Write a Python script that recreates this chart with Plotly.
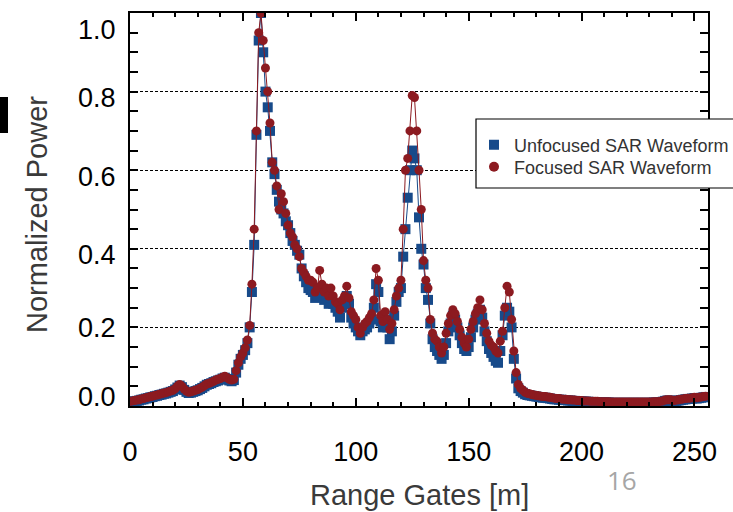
import plotly.graph_objects as go

# ---------------- data ----------------
gates = list(range(256))

focused = [
    0.012, 0.013, 0.014, 0.015, 0.016, 0.018, 0.019, 0.021, 0.022, 0.024,
    0.025, 0.027, 0.028, 0.030, 0.031, 0.033, 0.034, 0.036, 0.038, 0.040,
    0.044, 0.050, 0.055, 0.050, 0.043, 0.038, 0.035, 0.036, 0.038, 0.040,
    0.042, 0.045, 0.048, 0.052, 0.056, 0.058, 0.060, 0.063, 0.066, 0.068,
    0.070, 0.073, 0.076, 0.072, 0.068, 0.066, 0.068, 0.090, 0.110, 0.125,
    0.135, 0.148, 0.168, 0.205, 0.310, 0.450, 0.700, 0.950, 1.000, 0.930,
    0.860, 0.800, 0.720, 0.620, 0.600, 0.560, 0.500, 0.540, 0.520, 0.490,
    0.460, 0.440, 0.430, 0.410, 0.400, 0.380, 0.350, 0.340, 0.330, 0.320,
    0.320, 0.315, 0.290, 0.300, 0.345, 0.310, 0.290, 0.300, 0.280, 0.300,
    0.280, 0.265, 0.260, 0.245, 0.270, 0.280, 0.305, 0.275, 0.240, 0.230,
    0.220, 0.200, 0.185, 0.200, 0.210, 0.215, 0.225, 0.235, 0.270, 0.350,
    0.320, 0.230, 0.215, 0.240, 0.220, 0.195, 0.210, 0.245, 0.280, 0.300,
    0.320, 0.450, 0.600, 0.630, 0.700, 0.790, 0.785, 0.700, 0.600, 0.500,
    0.370, 0.320, 0.300, 0.220, 0.185, 0.170, 0.165, 0.150, 0.135, 0.150,
    0.185, 0.210, 0.230, 0.245, 0.235, 0.215, 0.195, 0.175, 0.160, 0.150,
    0.170, 0.195, 0.215, 0.235, 0.250, 0.270, 0.245, 0.210, 0.185, 0.165,
    0.155, 0.150, 0.140, 0.135, 0.165, 0.190, 0.250, 0.305, 0.290, 0.220,
    0.140, 0.085, 0.055, 0.045, 0.040, 0.035, 0.032, 0.031, 0.029, 0.028,
    0.027, 0.026, 0.025, 0.024, 0.024, 0.023, 0.022, 0.021, 0.020, 0.019,
    0.019, 0.018, 0.017, 0.017, 0.016, 0.016, 0.015, 0.015, 0.014, 0.014,
    0.014, 0.013, 0.013, 0.013, 0.012, 0.012, 0.012, 0.012, 0.011, 0.011,
    0.011, 0.011, 0.011, 0.010, 0.010, 0.010, 0.010, 0.010, 0.010, 0.010,
    0.010, 0.010, 0.010, 0.010, 0.010, 0.010, 0.010, 0.010, 0.010, 0.010,
    0.010, 0.010, 0.011, 0.011, 0.011, 0.012, 0.013, 0.015, 0.016, 0.016,
    0.015, 0.014, 0.015, 0.016, 0.017, 0.018, 0.019, 0.020, 0.020, 0.021,
    0.022, 0.021, 0.022, 0.023, 0.024, 0.025,
]

unfocused = [
    0.010, 0.011, 0.012, 0.013, 0.014, 0.016, 0.017, 0.019, 0.020, 0.022,
    0.023, 0.025, 0.026, 0.028, 0.029, 0.031, 0.032, 0.034, 0.036, 0.038,
    0.042, 0.047, 0.052, 0.048, 0.041, 0.036, 0.033, 0.034, 0.036, 0.038,
    0.040, 0.043, 0.046, 0.050, 0.054, 0.056, 0.058, 0.061, 0.063, 0.065,
    0.067, 0.070, 0.072, 0.069, 0.065, 0.063, 0.066, 0.085, 0.105, 0.120,
    0.130, 0.142, 0.160, 0.200, 0.290, 0.410, 0.690, 0.930, 1.000, 0.900,
    0.800, 0.760, 0.700, 0.620, 0.590, 0.550, 0.520, 0.500, 0.490, 0.470,
    0.460, 0.440, 0.420, 0.410, 0.395, 0.385, 0.350, 0.330, 0.315, 0.300,
    0.295, 0.290, 0.275, 0.280, 0.300, 0.290, 0.270, 0.280, 0.260, 0.275,
    0.260, 0.250, 0.240, 0.225, 0.250, 0.260, 0.280, 0.260, 0.225, 0.210,
    0.200, 0.190, 0.180, 0.190, 0.195, 0.200, 0.210, 0.220, 0.250, 0.310,
    0.290, 0.215, 0.200, 0.220, 0.200, 0.170, 0.190, 0.230, 0.265, 0.290,
    0.300, 0.380, 0.450, 0.530, 0.600, 0.650, 0.630, 0.600, 0.480, 0.400,
    0.360, 0.300, 0.270, 0.210, 0.170, 0.150, 0.140, 0.130, 0.120, 0.130,
    0.160, 0.190, 0.210, 0.230, 0.220, 0.200, 0.180, 0.160, 0.145, 0.140,
    0.150, 0.175, 0.200, 0.220, 0.235, 0.245, 0.225, 0.190, 0.165, 0.145,
    0.135, 0.125, 0.115, 0.110, 0.140, 0.180, 0.230, 0.250, 0.240, 0.200,
    0.120, 0.070, 0.045, 0.038, 0.034, 0.030, 0.028, 0.027, 0.026, 0.025,
    0.024, 0.023, 0.022, 0.021, 0.021, 0.020, 0.019, 0.018, 0.017, 0.017,
    0.016, 0.016, 0.015, 0.015, 0.014, 0.014, 0.013, 0.013, 0.012, 0.012,
    0.012, 0.011, 0.011, 0.011, 0.010, 0.010, 0.010, 0.010, 0.009, 0.009,
    0.009, 0.009, 0.009, 0.008, 0.008, 0.008, 0.008, 0.008, 0.008, 0.008,
    0.008, 0.008, 0.008, 0.008, 0.008, 0.008, 0.008, 0.008, 0.008, 0.008,
    0.008, 0.008, 0.009, 0.009, 0.009, 0.010, 0.011, 0.013, 0.014, 0.014,
    0.013, 0.012, 0.013, 0.014, 0.015, 0.016, 0.017, 0.018, 0.018, 0.019,
    0.020, 0.019, 0.020, 0.021, 0.022, 0.023,
]

x_ticks = [0, 50, 100, 150, 200, 250]
y_ticks = [0.0, 0.2, 0.4, 0.6, 0.8, 1.0]
y_tick_labels = ["0.0", "0.2", "0.4", "0.6", "0.8", "1.0"]
series_names = ["Unfocused SAR Waveform", "Focused SAR Waveform"]

# ---------------- style ----------------
BLUE = "#174a8a"
RED = "#8c1a20"
FONT = "Liberation Sans"

W, H = 733, 512
L, R, T, B = 130, 25, 13, 106
PW, PH = W - L - R, H - T - B


def px(xp):
    return (xp - L) / PW


def py(yp):
    return (H - B - yp) / PH


fig = go.Figure()

fig.add_trace(go.Scatter(
    x=gates, y=unfocused, mode="lines+markers", showlegend=False,
    line=dict(color=BLUE, width=1),
    marker=dict(symbol="square", size=10, color=BLUE, line=dict(width=0)),
))
fig.add_trace(go.Scatter(
    x=gates, y=focused, mode="lines+markers", showlegend=False,
    line=dict(color=RED, width=1),
    marker=dict(symbol="circle", size=9, color=RED, line=dict(width=0)),
))

# legend-only entries (markers only), one per legend box row
fig.add_trace(go.Scatter(
    x=[None], y=[None], mode="markers", name=series_names[0], legend="legend",
    marker=dict(symbol="square", size=10, color=BLUE),
))
fig.add_trace(go.Scatter(
    x=[None], y=[None], mode="markers", name=series_names[1], legend="legend2",
    marker=dict(symbol="circle", size=10, color=RED),
))

fig.update_xaxes(
    range=[0, 256], tickvals=x_ticks, ticks="inside", ticklen=8, tickwidth=1.5,
    tickcolor="black", showline=True, linecolor="black", linewidth=2,
    mirror="ticks", showgrid=False, zeroline=False,
    minor=dict(dtick=10, ticks="inside", ticklen=4, tickwidth=1.5, tickcolor="black", showgrid=False),
    tickfont=dict(family=FONT, size=27, color="black"), ticklabelstandoff=21,
)
fig.update_yaxes(
    range=[0, 1.0], tickvals=y_ticks, ticks="inside", ticklen=8, tickwidth=1.5,
    tickcolor="black", showline=True, linecolor="black", linewidth=2,
    mirror="ticks", showgrid=True, gridcolor="black", gridwidth=1, griddash="3px,2px",
    zeroline=False, showticklabels=False,
    minor=dict(dtick=0.05, ticks="inside", ticklen=8, tickwidth=1.5, tickcolor="black", showgrid=False),
)

annotations = []
label_pos = {"1.0": 30, "0.8": 98, "0.6": 177, "0.4": 255, "0.2": 328, "0.0": 397}
for lab in y_tick_labels:
    annotations.append(dict(
        text=lab, xref="paper", yref="paper", x=px(118), y=py(label_pos[lab]),
        xanchor="right", yanchor="middle", showarrow=False,
        font=dict(family=FONT, size=27, color="black"),
    ))
annotations.append(dict(
    text="Normalized Power", xref="paper", yref="paper", x=px(37), y=py(215),
    xanchor="center", yanchor="middle", textangle=-90, showarrow=False,
    font=dict(family=FONT, size=29, color="#3a3a3a"),
))
annotations.append(dict(
    text="Range Gates [m]", xref="paper", yref="paper", x=px(419), y=py(495),
    xanchor="center", yanchor="middle", showarrow=False,
    font=dict(family=FONT, size=29, color="#3a3a3a"),
))
annotations.append(dict(
    text="16", xref="paper", yref="paper", x=px(622), y=py(480),
    xanchor="center", yanchor="middle", showarrow=False,
    font=dict(family="Open Sans", size=26, color="#a6a6a6"),
))

shapes = [
    dict(type="rect", xref="paper", yref="paper", x0=px(476), x1=px(750),
         y0=py(188), y1=py(119), line=dict(color="black", width=1.2),
         fillcolor="white", layer="above"),
    dict(type="rect", xref="paper", yref="paper", x0=px(0), x1=px(8),
         y0=py(133), y1=py(97), line=dict(width=0), fillcolor="black", layer="above"),
]

legend_common = dict(
    xanchor="left", yanchor="middle",
    bgcolor="rgba(0,0,0,0)", borderwidth=0,
    font=dict(family=FONT, size=18, color="#333333"),
)

fig.update_layout(
    width=W, height=H,
    margin=dict(l=L, r=R, t=T, b=B, autoexpand=False),
    plot_bgcolor="white", paper_bgcolor="white",
    annotations=annotations, shapes=shapes,
    legend=dict(x=px(474), y=py(145), **legend_common),
    legend2=dict(x=px(474), y=py(167), **legend_common),
)

fig.write_html("out.html")
